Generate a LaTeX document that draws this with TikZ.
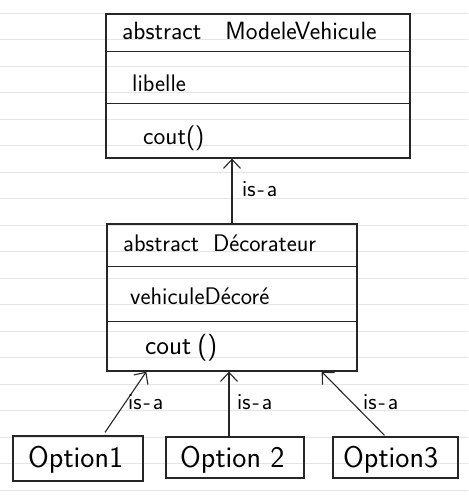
\documentclass[tikz,border=0pt]{standalone}
\usetikzlibrary{arrows.meta,calc}
\begin{document}
\begin{tikzpicture}[x=1pt,y=-1pt]
    % --- styles ---
    \tikzset{
      umlbox/.style={draw=black!85,line width=1.3pt,inner sep=0pt},
      umltext/.style={anchor=base west,inner sep=0pt,font=\sffamily\fontsize{24}{28}\selectfont},
      optiontext/.style={anchor=base west,inner sep=0pt,font=\sffamily\fontsize{30}{34}\selectfont},
      isalabel/.style={anchor=base west,inner sep=0pt,font=\sffamily\fontsize{23}{26}\selectfont},
      isa/.style={draw=black!85,line width=1.1pt,-{Straight Barb[length=9pt,width=17pt,line width=1.1pt]}},
      sepline/.style={draw=black!85,line width=1.1pt}
    }

    % paper with rules
    \fill[white] (0,0) rectangle (468,497);
    \useasboundingbox (0,0) rectangle (468,497);
    \foreach \k in {0,...,18}
      \draw[black!10,line width=1.2pt] (0,13.3+26.5*\k) -- (468,13.3+26.5*\k);

    % abstract class ModeleVehicule
    \node[umlbox,minimum width=304pt,minimum height=144pt] (modele) at (258,86) {};
    \draw[sepline] ($(modele.north west)+(0,38)$) -- ($(modele.north east)+(0,38)$);
    \draw[sepline] ($(modele.north west)+(0,90)$) -- ($(modele.north east)+(-2,90)$);
    \node[umltext,font=\sffamily\fontsize{25}{28}\selectfont] (modeleName) at (122,40) {abstract\hspace{24pt}ModeleVehicule};
    \node[umltext] (modeleAttr) at (132,92) {libelle};
    \node[umltext,font=\sffamily\fontsize{25}{28}\selectfont] (modeleOp) at (143,145) {cout()};

    % abstract class Decorateur
    \node[umlbox,minimum width=250pt,minimum height=147pt] (deco) at (232,297.5) {};
    \draw[sepline] ($(deco.north west)+(0,43)$) -- ($(deco.north east)+(0,43)$);
    \draw[sepline] ($(deco.north west)+(0,98)$) -- ($(deco.north east)+(0,98)$);
    \node[umltext] (decoName) at (123,251) {abstract\hspace{14pt}Décorateur};
    \node[umltext] (decoAttr) at (130,304) {vehiculeDécoré};
    \node[umltext,font=\sffamily\fontsize{27}{30}\selectfont] (decoOp) at (145,354) {cout\hspace{6pt}()};

    % concrete options
    \node[umlbox,minimum width=130pt,minimum height=45pt] (opt1) at (78,458.5) {};
    \node[umlbox,minimum width=138pt,minimum height=41pt] (opt2) at (235,457.5) {};
    \node[umlbox,minimum width=125pt,minimum height=41pt] (opt3) at (395.5,457.5) {};
    \node[optiontext] (opt1Name) at (28,467) {Option1};
    \node[optiontext] (opt2Name) at (180,467) {Option 2};
    \node[optiontext] (opt3Name) at (343,467) {Option3};

    % inheritance arrows
    \coordinate (o1top) at ($(opt1.north)+(27,-3)$);
    \coordinate (o2top) at ($(opt2.north)+(-6,0)$);
    \coordinate (o3top) at ($(opt3.north)+(-11,-1)$);
    \coordinate (d1) at ($(deco.south west)+(40,0)$);
    \coordinate (d3) at ($(deco.south east)+(-36,0)$);
    \draw[isa] (deco.north) -- (deco.north |- modele.south);
    \draw[isa] (o1top) -- (d1);
    \draw[isa] (o2top) -- (o2top |- deco.south);
    \draw[isa] (o3top) -- (d3);

    % is-a labels
    \node[isalabel] (isaTop) at (242,196) {is\hspace{2pt}-\hspace{2pt}a};
    \node[isalabel] (isaOne) at (128,409) {is\hspace{2pt}-\hspace{2pt}a};
    \node[isalabel] (isaTwo) at (237,409) {is\hspace{2pt}-\hspace{2pt}a};
    \node[isalabel] (isaThree) at (363,409) {is\hspace{2pt}-\hspace{2pt}a};
\end{tikzpicture}
\end{document}
